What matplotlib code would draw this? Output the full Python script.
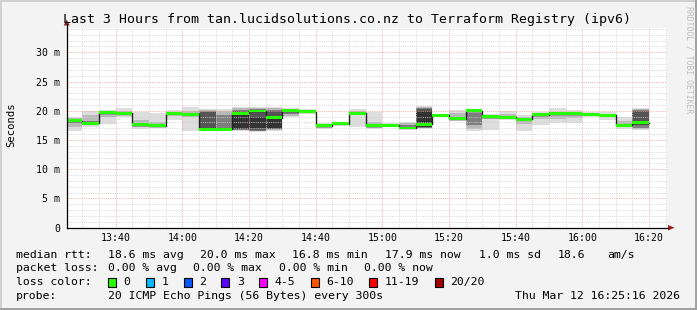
import numpy as np
import matplotlib
matplotlib.use("Agg")
import matplotlib.pyplot as plt
from matplotlib.patches import Rectangle, Polygon
from matplotlib.lines import Line2D

# ---------------- data ----------------
title = "Last 3 Hours from tan.lucidsolutions.co.nz to Terraform Registry (ipv6)"
t_start = 25 + 16 / 60          # minutes after 13:00 -> 13:25:16
t_span = 180                    # 3 hours
step_min = 5
first_step_end = 30             # 13:30
last_step_end = 200             # 16:20

median = [18.3, 17.85, 19.65, 19.55, 17.6, 17.4, 19.45, 19.4, 16.85, 16.8,
          19.55, 19.95, 18.8, 20.0, 19.8, 17.45, 17.75, 19.55, 17.45, 17.55,
          17.05, 17.7, 19.25, 18.6, 20.0, 19.0, 18.9, 18.55, 19.3, 19.45,
          19.45, 19.4, 19.25, 17.55, 17.95]

# smoke bands (outermost -> innermost), None = band not visible
band1_lo = [16.6, 17.25, 17.7, 18.85, 16.8, 17.1, 18.5, 16.5, 16.5, 16.5,
            16.6, 16.4, 16.6, 18.95, 19.6, 16.8, 17.55, 17.15, 16.9, 17.15,
            16.8, 16.9, 19.0, 18.2, 16.6, 16.7, 18.5, 16.6, 17.55, 17.95,
            17.9, 18.9, 18.5, 16.8, 16.7]
band1_hi = [19.0, 19.95, 20.1, 20.4, 19.8, 19.65, 20.1, 20.7, 20.25, 20.3,
            20.7, 20.7, 20.6, 20.4, 20.25, 17.95, 18.1, 20.25, 19.85, 17.95,
            18.1, 20.8, 19.5, 20.2, 20.25, 19.5, 20.0, 19.3, 19.85, 20.4,
            20.1, 19.8, 19.7, 19.0, 20.4]
band2_lo = [17.3, 17.6, 19.0, 19.1, 17.2, 17.2, 19.2, 19.0, 16.6, 16.6,
            16.7, 16.5, 16.7, 19.1, 19.7, 17.0, 17.65, 19.2, 17.0, 17.3,
            16.9, 17.0, 19.1, 18.4, 16.8, 18.6, 18.7, 17.8, 18.6, 18.6,
            18.7, 19.1, 18.9, 17.2, 16.8]
band2_hi = [18.8, 19.2, 19.9, 20.0, 18.5, 18.0, 19.8, 19.9, 20.15, 20.0,
            20.5, 20.5, 20.4, 20.3, 20.1, 17.8, 17.9, 19.9, 18.0, 17.8,
            17.9, 20.6, 19.4, 19.6, 20.0, 19.3, 19.5, 19.0, 19.6, 19.8,
            19.7, 19.6, 19.4, 18.2, 20.3]
band3_lo = [17.9, 17.7, 19.5, 19.4, 17.5, 17.3, 19.35, 19.3, 16.7, 16.75,
            16.75, 16.6, 16.8, 19.4, None, 17.3, None, None, 17.3, None,
            17.0, 17.1, None, 18.5, 17.5, None, None, None, None, None,
            None, None, None, 17.4, 17.0]
band3_hi = [18.5, 18.3, 19.8, 19.7, 17.8, 17.6, 19.6, 19.5, 20.0, 19.3,
            20.2, 20.3, 20.2, 20.1, None, 17.6, None, None, 17.6, None,
            17.6, 20.5, None, 18.8, 19.6, None, None, None, None, None,
            None, None, None, 17.7, 20.1]
band4_lo = [None, None, None, None, None, None, None, None, 16.8, None,
            16.8, 16.7, 16.9, None, None, None, None, None, None, None,
            None, 17.2, None, None, None, None, None, None, None, None,
            None, None, None, None, 17.6]
band4_hi = [None, None, None, None, None, None, None, None, 19.8, None,
            20.0, 20.1, 19.9, None, None, None, None, None, None, None,
            None, 20.3, None, None, None, None, None, None, None, None,
            None, None, None, None, 20.0]
band5_lo = [None, None, None, None, None, None, None, None, None, None,
            16.9, 17.0, 17.0, None, None, None, None, None, None, None,
            None, 17.3, None, None, None, None, None, None, None, None,
            None, None, None, None, None]
band5_hi = [None, None, None, None, None, None, None, None, None, None,
            19.3, 19.0, 18.6, None, None, None, None, None, None, None,
            None, 19.9, None, None, None, None, None, None, None, None,
            None, None, None, None, None]

xtick_minutes = [40, 60, 80, 100, 120, 140, 160, 180, 200]
xtick_labels = ["13:40", "14:00", "14:20", "14:40", "15:00", "15:20", "15:40", "16:00", "16:20"]
ytick_values = [0, 5, 10, 15, 20, 25, 30]
ytick_labels = ["0", "5 m", "10 m", "15 m", "20 m", "25 m", "30 m"]
y_max = 34.2

rtt_stats = ["18.6 ms avg", "20.0 ms max", "16.8 ms min", "17.9 ms now", "1.0 ms sd", "18.6", "am/s"]
loss_stats = ["0.00 % avg", "0.00 % max", "0.00 % min", "0.00 % now"]
loss_labels = ["0", "1", "2", "3", "4-5", "6-10", "11-19", "20/20"]
loss_colors = ["#26ff00", "#00b8ff", "#0059ff", "#5e00ff", "#ff00ff", "#ff5500", "#ff0000", "#a10000"]
probe_text = "20 ICMP Echo Pings (56 Bytes) every 300s"
stamp_text = "Thu Mar 12 16:25:16 2026"
watermark = "RRDTOOL / TOBI OETIKER"

# ---------------- figure ----------------
W, H = 697, 310
MONO = "DejaVu Sans Mono"
fig = plt.figure(figsize=(W / 100, H / 100), dpi=100)
fig.patch.set_facecolor("#f3f3f3")

def fx(x):
    return x / W

def fy(y):
    return 1 - y / H

ax_l, ax_r, ax_t, ax_b = 66.7, 666.7, 27.7, 227.7
ax = fig.add_axes([fx(ax_l), fy(ax_b), (ax_r - ax_l) / W, (ax_b - ax_t) / H])
ax.set_facecolor("white")
ax.set_xlim(t_start, t_start + t_span)
ax.set_ylim(0, y_max)
for s in ax.spines.values():
    s.set_visible(False)

edges = np.array([t_start] + list(range(first_step_end, last_step_end + 1, step_min)), dtype=float)
lefts = edges[:-1]
widths = np.diff(edges)

band_colors = ["#dddddd", "#b9b9b9", "#7e7e7e", "#555555", "#333333"]
bands = [(band1_lo, band1_hi), (band2_lo, band2_hi), (band3_lo, band3_hi),
         (band4_lo, band4_hi), (band5_lo, band5_hi)]
for (lo, hi), col in zip(bands, band_colors):
    lo_a = np.array([np.nan if v is None else v for v in lo], dtype=float)
    hi_a = np.array([np.nan if v is None else v for v in hi], dtype=float)
    m = ~np.isnan(lo_a)
    ax.bar(lefts[m], hi_a[m] - lo_a[m], bottom=lo_a[m], width=widths[m], align="edge",
           color=col, linewidth=0, zorder=1)

med = np.array(median)
ax.step(edges, np.append(med, med[-1]), where="post", color="#202020", lw=1.0, zorder=3)
ax.bar(lefts, 0.5, bottom=med - 0.25, width=widths, align="edge",
       color=loss_colors[0], linewidth=0, zorder=4)

# grid
ax.set_xticks(xtick_minutes)
ax.set_xticklabels(xtick_labels)
ax.set_xticks([m for m in range(first_step_end, int(t_start + t_span) + 1, step_min) if m % 20 != 0], minor=True)
ax.set_yticks(ytick_values)
ax.set_yticklabels(ytick_labels)
ax.set_yticks([v for v in range(1, int(y_max) + 1) if v % 5 != 0], minor=True)
ax.set_axisbelow(False)
ax.grid(which="minor", color="#d2d2d2", linestyle=(0, (1, 1.2)), linewidth=0.6)
ax.grid(which="major", color="#f2a0a0", linestyle=(0, (1, 1.2)), linewidth=0.6)
ax.tick_params(which="both", length=0)
ax.tick_params(axis="x", pad=4, labelsize=7.1, labelcolor="#000000")
ax.tick_params(axis="y", pad=4.6, labelsize=7.1, labelcolor="#000000")
for lab in ax.get_xticklabels() + ax.get_yticklabels():
    lab.set_family(MONO)

# axes lines and arrows
fig.add_artist(Line2D([fx(ax_l), fx(668)], [fy(ax_b), fy(ax_b)], color="black", lw=0.9))
fig.add_artist(Line2D([fx(ax_l), fx(ax_l)], [fy(ax_b), fy(24)], color="black", lw=0.9))
fig.add_artist(Polygon([[fx(668), fy(225)], [fx(668), fy(230.5)], [fx(674.5), fy(227.7)]],
                       closed=True, color="#9c1f1f", lw=0))
fig.add_artist(Polygon([[fx(63.7), fy(25.5)], [fx(69.7), fy(25.5)], [fx(66.7), fy(19.5)]],
                       closed=True, color="#9c1f1f", lw=0))

# titles
fig.text(0.5 - 1.5 / W, fy(19.5), title, ha="center", va="center", family=MONO, size=9.55)
fig.text(fx(11), fy(125), "Seconds", rotation=90, ha="center", va="center", family=MONO, size=7.6)
fig.text(fx(689), fy(60), watermark, rotation=270, ha="center", va="center", family=MONO,
         size=5.9, color="#bdbdbd")

# legend
LS = 8.25
CW = 6.9
fig.text(fx(16), fy(254.7), "median rtt:", ha="left", va="center", family=MONO, size=LS)
for s, x in zip(rtt_stats, [107.6, 200, 292, 385, 479, 558, 607]):
    fig.text(fx(x), fy(254.7), s, ha="left", va="center", family=MONO, size=LS)
fig.text(fx(16), fy(268.3), "packet loss:", ha="left", va="center", family=MONO, size=LS)
for s, x in zip(loss_stats, [107.6, 193, 279, 364]):
    fig.text(fx(x), fy(268.3), s, ha="left", va="center", family=MONO, size=LS)
fig.text(fx(16), fy(282.3), "loss color:", ha="left", va="center", family=MONO, size=LS)
x = 108.0
for lab, col in zip(loss_labels, loss_colors):
    fig.add_artist(Rectangle((fx(x), fy(286.5)), 8 / W, 8.5 / H, facecolor=col,
                             edgecolor="black", lw=0.8))
    fig.text(fx(x + 15.6), fy(282.3), lab, ha="left", va="center", family=MONO, size=LS)
    x = x + 15.6 + CW * len(lab) + 15.3
fig.text(fx(16), fy(296), "probe:", ha="left", va="center", family=MONO, size=LS)
fig.text(fx(107.6), fy(296), probe_text, ha="left", va="center", family=MONO, size=LS)
fig.text(fx(680), fy(296), stamp_text, ha="right", va="center", family=MONO, size=LS)

# frame
fig.add_artist(Line2D([0, 1], [fy(0.8), fy(0.8)], color="#d0d0d0", lw=1.4))
fig.add_artist(Line2D([fx(0.8), fx(0.8)], [0, 1], color="#d0d0d0", lw=1.4))
fig.add_artist(Line2D([0, 1], [fy(309.2), fy(309.2)], color="#a0a0a0", lw=1.4))
fig.add_artist(Line2D([fx(696.2), fx(696.2)], [0, 1], color="#a0a0a0", lw=1.4))

fig.savefig("out.png", dpi=100, facecolor=fig.get_facecolor())
